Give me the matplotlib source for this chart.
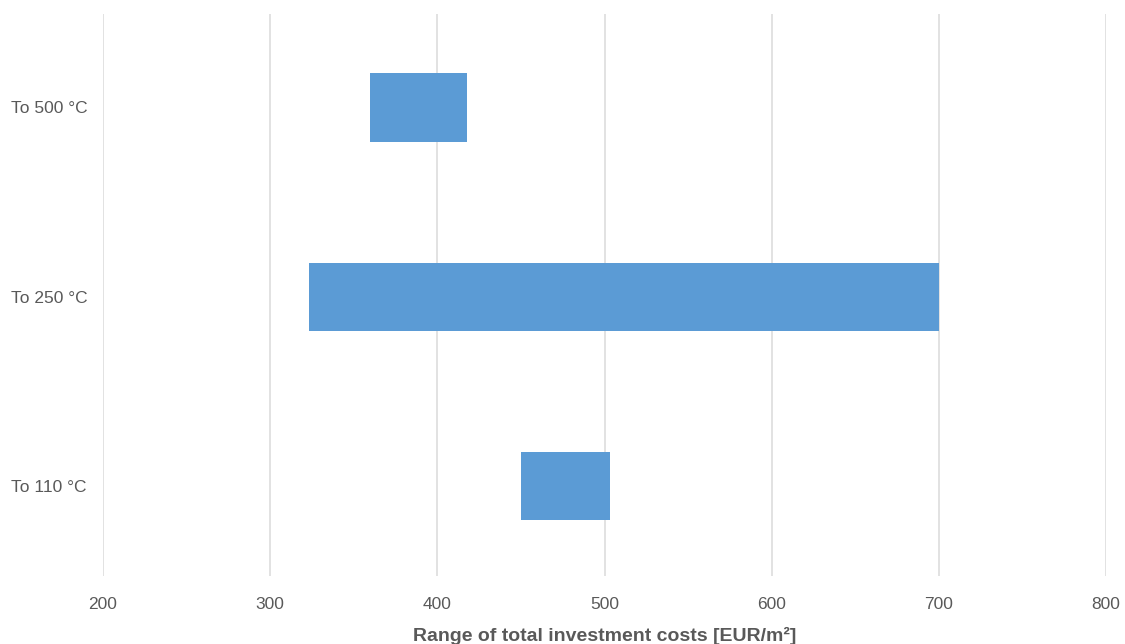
import matplotlib
matplotlib.use("Agg")
from matplotlib import pyplot as plt

# category labels, bottom to top
categories = ['To 110 °C', 'To 250 °C', 'To 500 °C']
# min and max of the cost range [EUR/m²]
cost_low = [450, 323, 360]
cost_high = [503, 700, 418]

plt.rcParams['font.family'] = ['Liberation Sans Narrow', 'Liberation Sans', 'DejaVu Sans']

fig = plt.figure(figsize=(11.25, 6.44), dpi=100)
ax = fig.add_axes([103 / 1125, 1 - 576 / 644, 1003 / 1125, 562 / 644])

widths = [h - l for l, h in zip(cost_low, cost_high)]
ax.barh(range(len(categories)), widths, left=cost_low, height=0.36,
        color='#5B9BD5', zorder=3)

ax.set_xlim(200, 800)
ax.set_ylim(-0.473, 2.493)
ax.set_xticks(range(200, 801, 100))
ax.set_yticks(range(len(categories)))
ax.set_yticklabels(categories, ha='left')
ax.grid(axis='x', color='#DDDDDD', linewidth=1.2, zorder=0)
for s in ax.spines.values():
    s.set_visible(False)
ax.tick_params(length=0, labelsize=12.5, colors='#595959')
ax.tick_params(axis='x', pad=15)
ax.tick_params(axis='y', pad=66)
ax.set_xlabel('Range of total investment costs [EUR/m²]', fontsize=14,
              fontweight='bold', color='#595959', labelpad=11)

fig.savefig('out.png', dpi=100)
